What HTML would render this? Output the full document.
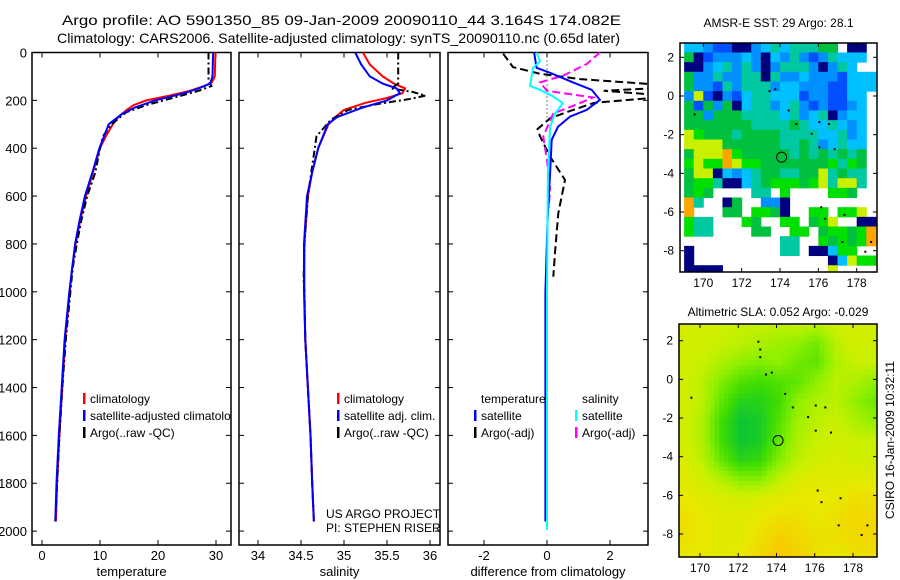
<!DOCTYPE html>
<html><head><meta charset="utf-8"><style>
body{margin:0;background:#fff;}
svg{display:block;font-family:"Liberation Sans",sans-serif;}
</style></head><body>
<svg id="fig" width="900" height="580" viewBox="0 0 900 580" xmlns="http://www.w3.org/2000/svg">
<defs>
<clipPath id="c1"><rect x="32" y="52" width="199" height="493"/></clipPath>
<clipPath id="c2"><rect x="239" y="52" width="201" height="493"/></clipPath>
<clipPath id="c3"><rect x="448" y="52" width="200" height="493"/></clipPath>
<clipPath id="cm1"><rect x="680" y="43" width="197" height="229"/></clipPath>
<clipPath id="cm2"><rect x="679" y="324" width="198" height="233"/></clipPath>
</defs>
<text x="62" y="25" font-size="14" textLength="559" lengthAdjust="spacingAndGlyphs">Argo profile: AO 5901350_85 09-Jan-2009 20090110_44 3.164S 174.082E</text>
<text x="57" y="43" font-size="14" textLength="563" lengthAdjust="spacingAndGlyphs">Climatology: CARS2006. Satellite-adjusted climatology: synTS_20090110.nc (0.65d later)</text>
<g id="layer"></g>
</svg>
<script>
// ---- profile data (depth, value) ----
const tempClimDepth=[0,100,125,140,160,180,200,220,240,260,280,300,350,400,500,600,700,800,900,1000,1200,1400,1600,1800,1960];
const tempClim=[29.9,29.8,29.3,28,25.5,22,18,15.8,14.6,13.6,12.8,12.2,11,10,8.8,7.6,6.6,5.8,5.2,4.8,4,3.5,3,2.6,2.4];
const tempSatDepth=[0,100,130,150,170,200,230,260,300,400,500,600,700,800,1000,1200,1400,1600,1800,1960];
const tempSat=[29.5,29.4,29,27,24.5,19.5,16,13.6,11.5,9.9,8.7,7.4,6.5,5.7,4.7,3.9,3.4,2.9,2.5,2.3];
const tempArgoDepth=[0,120,140,160,180,200,220,250,300,350,400,500,600,700,800,900,1000,1200,1400,1600,1800,1960];
const tempArgo=[28.7,28.7,29.2,27,24,21,18,14.5,12,10.5,10,9.2,7.8,6.8,6,5.3,4.9,4.1,3.5,3,2.6,2.3];
const salClimDepth=[0,50,100,130,150,170,190,210,240,270,300,400,500,600,800,1000,1200,1400,1600,1800,1960];
const salClim=[35.22,35.3,35.45,35.58,35.71,35.68,35.5,35.25,35.0,34.9,34.82,34.7,34.63,34.58,34.54,34.54,34.55,34.58,34.61,34.63,34.65];
const salSatDepth=[0,50,100,130,150,170,200,230,270,300,400,500,600,800,1000,1200,1400,1600,1800,1960];
const salSat=[35.13,35.2,35.3,35.45,35.61,35.65,35.5,35.22,34.92,34.81,34.7,34.63,34.57,34.535,34.535,34.55,34.58,34.61,34.63,34.65];
const salArgoDepth=[0,130,150,165,180,195,215,240,280,350,400,500,600,800,950,1000,1200,1400,1600,1800,1960];
const salArgo=[35.63,35.63,35.55,35.8,35.95,35.75,35.4,35.05,34.85,34.68,34.66,34.62,34.58,34.54,34.53,34.54,34.55,34.58,34.61,34.63,34.65];
const dTempSatDepth=[0,64,85,125,156,198,240,268,310,365,505,700,1000,1400,1960];
const dTempSat=[-0.41,-0.33,0.1,0.83,1.42,1.68,1.26,0.73,0.35,0.15,0.1,0.02,-0.05,-0.05,-0.05];
const dSalSatDepth=[0,37,64,140,156,184,212,254,310,505,1000,1995];
const dSalSat=[-0.33,-0.22,-0.44,-0.54,-0.22,0.2,0.5,0.26,0.1,0.03,0,0];
const dSalArgoDepth=[0,48,97,125,160,188,223,254,351,449,575,650];
const dSalArgo=[1.68,1.26,0.51,-0.22,0,1.46,0.83,0.2,-0.12,0,0.1,0.05];
const dTempArgoDepth=[5,61,89,111,132,150,160,175,190,210,240,275,320,351,435,533,672,826,937];
const dTempArgo=[-1.39,-1.08,-0.22,1.05,3.3,3.3,1.8,3.3,3.3,1.5,0.83,0.1,-0.3,-0.22,0.1,0.57,0.36,0.26,0.2];
const depthTicks=[0,200,400,600,800,1000,1200,1400,1600,1800,2000];
const p1Ticks=[0,10,20,30], p2Ticks=[34,34.5,35,35.5,36], p3Ticks=[-2,0,2];
// ---- SST map (0.5 deg cells, rows from lat 2.75 downward, cols from lon 169) ----
const sstRows=[
"llbBBddbltltttgg.dd.","gdBbbblbdlbtbBbtlll.","ddbltbtbdbtttbdbtl..","gbbtbbttdtbblbbbBlll",
"gbbBtbtttbllbbbBBlll","byBdbBlttlllBbbBBll.","gBgbgdlttbltbBbBBbl.","ggbgggttttltbltdbll.",
"gggggggttttgtlltlbl.","yGgggtggggttttlltbl.","yyyyggggggttgtbltll.","gyyyoGgggggtgtgtgtg.",
"GyGGoyGGgggggggGtGg.","gyydlbltggttggytgtt.","gGGtddltgGGGgGytyyt.","gGg....tt.G....GGg..",
"ot..dg..bbd.........","o...gg.GGgd..GG.GGy.","Gtt...Gg..GG.gGy..dd","Gtt....gg..GG.gGGgGo",
"..........tt..GgGgGo","d.........tt.ddlGG..","d..............dlyGG","dddd...........y...."];
const sstCodeValue={d:27.0,B:27.4,b:27.8,l:28.1,t:28.4,g:28.7,G:29.0,y:29.3,o:29.8};
// ---- SLA map (1 deg grid, lat 3..-9, lon 169..179) ----
const slaLats=[3,2,1,0,-1,-2,-3,-4,-5,-6,-7,-8,-9];
const slaLons=[169,170,171,172,173,174,175,176,177,178,179];
const slaGrid=[
[0.06,0.05,0.05,0.04,0.04,0.03,0.04,0.03,0.05,0.05,0.05],
[0.05,0.05,0.04,0.03,0.02,0.01,0.0,-0.02,0.03,0.05,0.05],
[0.05,0.04,0.02,0.0,-0.01,0.0,-0.02,-0.03,0.02,0.04,0.04],
[0.05,0.03,-0.01,-0.04,-0.05,-0.04,-0.03,0.0,0.03,0.02,0.0],
[0.05,0.03,-0.03,-0.07,-0.07,-0.05,0.0,0.02,0.03,0.0,-0.02],
[0.05,0.02,-0.05,-0.09,-0.08,-0.04,0.01,0.03,0.04,0.02,0.0],
[0.05,0.02,-0.05,-0.09,-0.08,-0.03,0.02,0.04,0.05,0.04,0.04],
[0.06,0.03,-0.03,-0.07,-0.06,-0.01,0.03,0.05,0.06,0.05,0.05],
[0.07,0.05,0.02,-0.01,-0.01,0.03,0.06,0.07,0.07,0.07,0.07],
[0.08,0.07,0.06,0.05,0.06,0.07,0.08,0.08,0.08,0.09,0.09],
[0.09,0.08,0.07,0.07,0.08,0.09,0.09,0.08,0.09,0.10,0.10],
[0.09,0.08,0.07,0.07,0.09,0.11,0.10,0.09,0.09,0.10,0.10],
[0.08,0.08,0.07,0.08,0.10,0.12,0.11,0.09,0.08,0.09,0.09]];
const argoLon=174.082, argoLat=-3.164;
const islands=[[173.0,2.0],[173.1,1.6],[173.1,1.2],[173.4,0.3],[173.7,0.4],[174.4,-0.7],[174.8,-1.4],[175.6,-1.9],[176.0,-1.3],[176.5,-1.4],[176.0,-2.6],[176.8,-2.7],[169.5,-0.9],[176.1,-5.7],[176.3,-6.3],[177.3,-6.1],[177.2,-7.5],[178.4,-8.0],[178.7,-7.5]];

const NS="http://www.w3.org/2000/svg";
const L=document.getElementById('layer');
function mk(tag,attrs,parent){const e=document.createElementNS(NS,tag);for(const k in attrs)e.setAttribute(k,attrs[k]);(parent||L).appendChild(e);return e;}
const y0=52.5, yk=0.2393;
const yDepth=d=>y0+d*yk;
function lin(d0,d1,r0,r1){return v=>r0+(v-d0)*(r1-r0)/(d1-d0);}
const panels=[
 {x0:32,x1:231,sx:lin(0,30,42,216),ticks:p1Ticks,label:'temperature',clip:'c1',name:'temperature'},
 {x0:239,x1:440,sx:lin(34,36,258,430),ticks:p2Ticks,label:'salinity',clip:'c2',name:'salinity'},
 {x0:448,x1:648,sx:lin(-2,2,484,610),ticks:p3Ticks,label:'difference from climatology',clip:'c3',name:'difference'}];
const yb=545;
panels.forEach((p,i)=>{
 const g=mk('g',{});
 
 
 const r=mk('rect',{x:p.x0,y:y0,width:p.x1-p.x0,height:yb-y0,fill:'none',stroke:'#000','stroke-width':1.5},g);
 
 
 depthTicks.forEach(d=>{const y=yDepth(d);
  mk('line',{x1:p.x0,x2:p.x0+5,y1:y,y2:y,stroke:'#000'},g);
  mk('line',{x1:p.x1-5,x2:p.x1,y1:y,y2:y,stroke:'#000'},g);
  if(i===0){const t=mk('text',{x:27,y:y+5,'font-size':13,'text-anchor':'end'},g);t.textContent=d;
   
   }
 });
 p.ticks.forEach(v=>{const x=p.sx(v);
  mk('line',{x1:x,x2:x,y1:yb,y2:yb-5,stroke:'#000'},g);
  mk('line',{x1:x,x2:x,y1:y0,y2:y0+5,stroke:'#000'},g);
  const t=mk('text',{x:x,y:560,'font-size':13,'text-anchor':'middle'},g);t.textContent=v;
  
  
 });
 const xl=mk('text',{x:(p.x0+p.x1)/2,y:576,'font-size':13,'text-anchor':'middle'},g);xl.textContent=p.label;
 
 
});
function line(pi,depths,vals,color,dash,w,name){
 const p=panels[pi];
 const pts=depths.map((d,k)=>p.sx(vals[k]).toFixed(1)+','+yDepth(d).toFixed(1)).join(' ');
 const e=mk('polyline',{points:pts,fill:'none',stroke:color,'stroke-width':w||2,'stroke-dasharray':dash||'none','clip-path':'url(#'+p.clip+')'});
 
 
}
line(0,tempClimDepth,tempClim,'#f00',null,2,'temp-climatology-line');
line(0,tempArgoDepth,tempArgo,'#000','7,3,2,3',2,'temp-argo-line');
line(0,tempSatDepth,tempSat,'#00f',null,2,'temp-satellite-line');
line(1,salClimDepth,salClim,'#f00',null,2,'sal-climatology-line');
line(1,salArgoDepth,salArgo,'#000','7,3,2,3',2,'sal-argo-line');
line(1,salSatDepth,salSat,'#00f',null,2,'sal-satellite-line');
const zl=mk('line',{x1:panels[2].sx(0),x2:panels[2].sx(0),y1:y0,y2:yDepth(300),stroke:'#000','stroke-dasharray':'1,3'});


line(2,dTempArgoDepth,dTempArgo,'#000','8,4',2,'diff-temp-argo-line');
line(2,dSalArgoDepth,dSalArgo,'#f0f','8,4',2,'diff-sal-argo-line');
line(2,dTempSatDepth,dTempSat,'#00f',null,2,'diff-temp-satellite-line');
line(2,dSalSatDepth,dSalSat,'#0ff',null,2,'diff-sal-satellite-line');
// legends
function legItem(x,y,color,text,clip,name){
 const g=mk('g',{});
 
 
 if(clip)g.setAttribute('clip-path','url(#'+clip+')');
 if(color)mk('rect',{x:x-7,y:y-9,width:2.5,height:11,fill:color},g);
 const t=mk('text',{x:x,y:y+1,'font-size':12},g);t.textContent=text;
}
legItem(90,402,'#f00','climatology','c1','legend-climatology');
legItem(90,419,'#00f','satellite-adjusted climatology','c1','legend-satellite-adjusted');
legItem(90,436,'#000','Argo(..raw -QC)','c1','legend-argo');
legItem(344,402,'#f00','climatology','c2','legend-sal-climatology');
legItem(344,419,'#00f','satellite adj. clim.','c2','legend-sal-satellite');
legItem(344,436,'#000','Argo(..raw -QC)','c2','legend-sal-argo');
legItem(481,402,null,'temperature','c3','legend-temp-header');
legItem(481,419,'#00f','satellite','c3','legend-temp-satellite');
legItem(481,436,'#000','Argo(-adj)','c3','legend-temp-argo');
legItem(582,402,null,'salinity','c3','legend-sal-header');
legItem(582,419,'#0ff','satellite','c3','legend-dsal-satellite');
legItem(582,436,'#f0f','Argo(-adj)','c3','legend-dsal-argo');
legItem(326,517,null,'US ARGO PROJECT','c2','project-label');
legItem(326,531,null,'PI: STEPHEN RISER','c2','pi-label');
// maps
function sstColor(v){
 if(v<=27.1)return '#000080'; if(v<=27.5)return '#0050ff'; if(v<=27.9)return '#0090ff';
 if(v<=28.2)return '#00c0ff'; if(v<=28.5)return '#00c8a0'; if(v<=28.8)return '#00c040';
 if(v<=29.1)return '#00e000'; if(v<=29.4)return '#c8f000'; return '#ffa500';}
function slaColor(v){
 const stops=[[-0.1,[0,192,64]],[-0.05,[64,221,0]],[0,[144,240,0]],[0.04,[200,240,0]],[0.08,[232,232,0]],[0.12,[248,200,0]]];
 if(v<=stops[0][0])return 'rgb('+stops[0][1]+')';
 for(let i=1;i<stops.length;i++){if(v<=stops[i][0]){const a=stops[i-1],b=stops[i],f=(v-a[0])/(b[0]-a[0]);
  return 'rgb('+a[1].map((c,k)=>Math.round(c+(b[1][k]-c)*f)).join(',')+')';}}
 return 'rgb('+stops[stops.length-1][1]+')';}
function mapAxes(m,title,titleY){
 const g=mk('g',{});
 
 
 m.g=g;
 const t=mk('text',{x:(m.x0+m.x1)/2,y:titleY,'font-size':12,'text-anchor':'middle'},g);t.textContent=title;
 
 
 return g;}
function mapFrame(m){
 const g=m.g;
 mk('rect',{x:m.x0,y:m.y0,width:m.x1-m.x0,height:m.y1-m.y0,fill:'none',stroke:'#000','stroke-width':1.5},g);
 [170,172,174,176,178].forEach(v=>{const x=m.sx(v);
  mk('line',{x1:x,x2:x,y1:m.y1,y2:m.y1-4,stroke:'#000'},g);mk('line',{x1:x,x2:x,y1:m.y0,y2:m.y0+4,stroke:'#000'},g);
  const t=mk('text',{x:x,y:m.y1+15,'font-size':12,'text-anchor':'middle'},g);t.textContent=v;
  
  });
 [2,0,-2,-4,-6,-8].forEach(v=>{const y=m.sy(v);
  mk('line',{x1:m.x0,x2:m.x0+4,y1:y,y2:y,stroke:'#000'},g);mk('line',{x1:m.x1-4,x2:m.x1,y1:y,y2:y,stroke:'#000'},g);
  const t=mk('text',{x:m.x0-6,y:y+4,'font-size':12,'text-anchor':'end'},g);t.textContent=v;
  
  });
 islands.forEach(p=>{mk('rect',{x:m.sx(p[0]),y:m.sy(p[1]),width:2,height:2,fill:'#000','clip-path':'url(#'+m.clip+')'},g);});
 const c=mk('circle',{cx:m.sx(argoLon),cy:m.sy(argoLat),r:5,fill:'none',stroke:'#000','stroke-width':1},g);
 
 
}
const m1={name:'sst-map',x0:680,x1:877,y0:43,y1:272,clip:'cm1',sx:lin(170,178,703.3,856.7),sy:lin(2,-8,57.3,250.7)};
mapAxes(m1,'AMSR-E SST: 29 Argo: 28.1',27);
const cg=mk('g',{'clip-path':'url(#cm1)'},m1.g);
sstRows.forEach((row,ri)=>{const lat=2.75-0.5*ri;
 for(let ci=0;ci<row.length;ci++){const ch=row[ci];if(!(ch in sstCodeValue))continue;
  const lon=169+0.5*ci;
  const r=mk('rect',{x:m1.sx(lon),y:m1.sy(lat),width:m1.sx(lon+0.5)-m1.sx(lon)+0.5,height:m1.sy(lat-0.5)-m1.sy(lat)+0.5,fill:sstColor(sstCodeValue[ch])},cg);
  
  }});
mapFrame(m1);
const m2={name:'sla-map',x0:679,x1:877,y0:324,y1:557,clip:'cm2',sx:lin(170,178,700,853),sy:lin(2,-8,340.7,534)};
mapAxes(m2,'Altimetric SLA: 0.052 Argo: -0.029',316);
const sg=mk('g',{'clip-path':'url(#cm2)'},m2.g);
for(let lat=3;lat>-9.25;lat-=0.25){for(let lon=168.75;lon<179.5;lon+=0.25){
 const fy=Math.min(Math.max((3-lat),0),12), fx=Math.min(Math.max(lon-169,0),10);
 const i0=Math.min(Math.floor(fy),11),j0=Math.min(Math.floor(fx),9),ty=fy-i0,tx=fx-j0;
 const v=slaGrid[i0][j0]*(1-tx)*(1-ty)+slaGrid[i0][j0+1]*tx*(1-ty)+slaGrid[i0+1][j0]*(1-tx)*ty+slaGrid[i0+1][j0+1]*tx*ty;
 const r=mk('rect',{x:m2.sx(lon),y:m2.sy(lat),width:m2.sx(lon+0.25)-m2.sx(lon)+0.5,height:m2.sy(lat-0.25)-m2.sy(lat)+0.5,fill:slaColor(v)},sg);
 
 }}
mapFrame(m2);
const cs=mk('text',{x:0,y:0,'font-size':12,'text-anchor':'middle',transform:'translate(894,440) rotate(-90)'});
cs.textContent='CSIRO 16-Jan-2009 10:32:11';


</script>
</body></html>
